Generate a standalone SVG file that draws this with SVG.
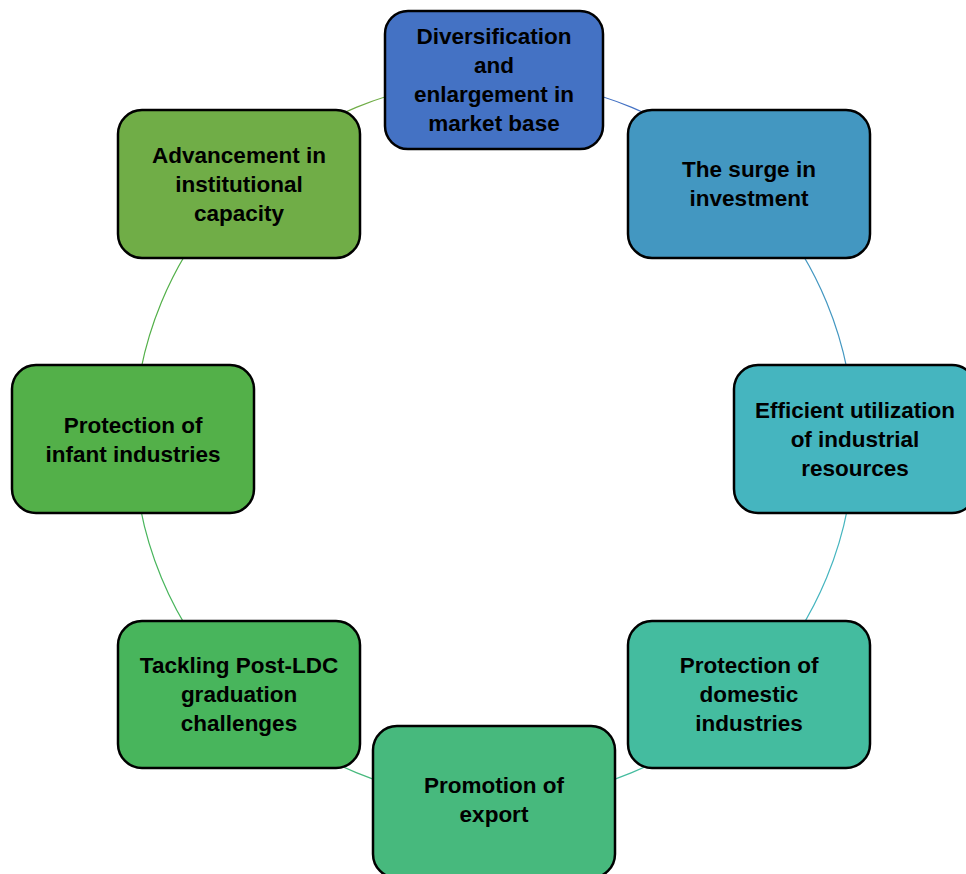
<svg xmlns="http://www.w3.org/2000/svg" width="966" height="874" viewBox="0 0 966 874">
<style>
.box{stroke:#000;stroke-width:2.5}
.lbl{font-family:"Liberation Sans",Arial,sans-serif;font-weight:bold;font-size:22.5px;fill:#000;text-anchor:middle}
.arc{fill:none;stroke-width:1.2}
</style>
<rect width="966" height="874" fill="#fff"/>
<g id="connectors">
<path class="arc" stroke="#4472C4" d="M494,80 A360,360 0 0 1 748.56,185.44"/>
<path class="arc" stroke="#4397C1" d="M748.56,185.44 A360,360 0 0 1 854,440"/>
<path class="arc" stroke="#45B5BF" d="M854,440 A360,360 0 0 1 748.56,694.56"/>
<path class="arc" stroke="#44BC9F" d="M748.56,694.56 A360,360 0 0 1 494,800"/>
<path class="arc" stroke="#47B97D" d="M494,800 A360,360 0 0 1 239.44,694.56"/>
<path class="arc" stroke="#48B55C" d="M239.44,694.56 A360,360 0 0 1 134,440"/>
<path class="arc" stroke="#53B049" d="M134,440 A360,360 0 0 1 239.44,185.44"/>
<path class="arc" stroke="#70AD47" d="M239.44,185.44 A360,360 0 0 1 494,80"/>
</g>
<g id="node1">
<rect class="box" x="385" y="11" width="218" height="138" rx="23" fill="#4472C4"/>
<text class="lbl" x="494" y="44">Diversification</text>
<text class="lbl" x="494" y="73">and</text>
<text class="lbl" x="494" y="102">enlargement in</text>
<text class="lbl" x="494" y="131">market base</text>
</g>
<g id="node2">
<rect class="box" x="628" y="110" width="242" height="148" rx="24" fill="#4397C1"/>
<text class="lbl" x="749" y="177">The surge in</text>
<text class="lbl" x="749" y="206">investment</text>
</g>
<g id="node3">
<rect class="box" x="734" y="365" width="242" height="148" rx="24" fill="#45B5BF"/>
<text class="lbl" x="855" y="418">Efficient utilization</text>
<text class="lbl" x="855" y="447">of industrial</text>
<text class="lbl" x="855" y="476">resources</text>
</g>
<g id="node4">
<rect class="box" x="628" y="621" width="242" height="147" rx="24" fill="#44BC9F"/>
<text class="lbl" x="749" y="673">Protection of</text>
<text class="lbl" x="749" y="702">domestic</text>
<text class="lbl" x="749" y="731">industries</text>
</g>
<g id="node5">
<rect class="box" x="373" y="726" width="242" height="152" rx="24" fill="#47B97D"/>
<text class="lbl" x="494" y="793">Promotion of</text>
<text class="lbl" x="494" y="822">export</text>
</g>
<g id="node6">
<rect class="box" x="118" y="621" width="242" height="147" rx="24" fill="#48B55C"/>
<text class="lbl" x="239" y="673">Tackling Post-LDC</text>
<text class="lbl" x="239" y="702">graduation</text>
<text class="lbl" x="239" y="731">challenges</text>
</g>
<g id="node7">
<rect class="box" x="12" y="365" width="242" height="148" rx="24" fill="#53B049"/>
<text class="lbl" x="133" y="433">Protection of</text>
<text class="lbl" x="133" y="462">infant industries</text>
</g>
<g id="node8">
<rect class="box" x="118" y="110" width="242" height="148" rx="24" fill="#70AD47"/>
<text class="lbl" x="239" y="163">Advancement in</text>
<text class="lbl" x="239" y="192">institutional</text>
<text class="lbl" x="239" y="221">capacity</text>
</g>
</svg>
